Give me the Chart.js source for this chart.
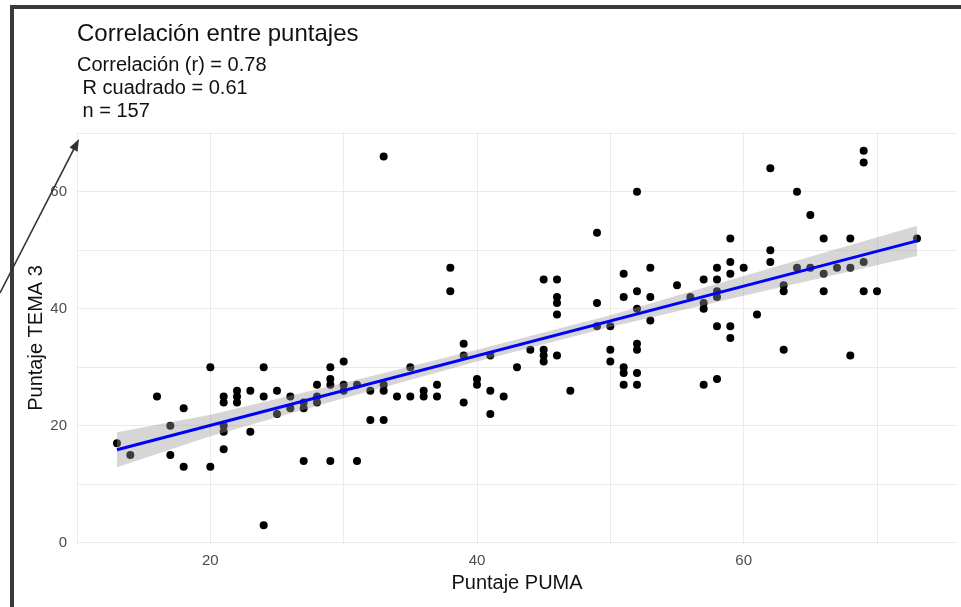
<!DOCTYPE html>
<html>
<head>
<meta charset="utf-8">
<script src="https://cdn.jsdelivr.net/npm/chart.js@4"></script>
<style>
html, body { margin: 0; padding: 0; background: #fff; }
#wrap { width: 961px; height: 607px; position: relative; }
</style>
</head>
<body>
<div id="wrap"><canvas id="corrChart"></canvas></div>
<script>
// Puntaje PUMA (x) y Puntaje TEMA 3 (y)
var pumaScores = [13, 14, 16, 17, 17, 18, 18, 20, 20,
    21, 21, 21, 21, 21, 22, 22, 22, 23, 23, 24, 24, 24, 25, 25, 26, 26,
    27, 27, 27, 28, 28, 28, 29, 29, 29, 29, 30, 30, 30, 31, 31, 32, 32,
    33, 33, 33, 33, 34, 35, 35, 36, 36, 37, 37, 38, 38, 39, 39, 39, 40, 40,
    41, 41, 41, 42, 43, 44, 45, 45, 45, 45, 46, 46, 46, 46, 46, 47,
    49, 49, 49, 50, 50, 50, 51, 51, 51, 51, 51, 52, 52, 52, 52, 52, 52, 52,
    53, 53, 53, 55, 56, 57, 57, 57, 57, 58, 58, 58, 58, 58, 58,
    59, 59, 59, 59, 59, 60, 61, 62, 62, 62, 63, 63, 63, 64, 64, 65, 65,
    66, 66, 66, 67, 68, 68, 68, 69, 69, 69, 69, 70, 73];
var temaScores = [17, 15, 25, 20, 15, 23, 13, 30, 13,
    25, 24, 20, 19, 16, 26, 25, 24, 26, 19, 30, 25, 3, 26, 22, 25, 23,
    24, 23, 14, 27, 25, 24, 30, 28, 27, 14, 31, 27, 26, 27, 14, 26, 21,
    66, 27, 26, 21, 25, 30, 25, 26, 25, 27, 25, 47, 43, 34, 32, 24, 28, 27,
    32, 26, 22, 25, 30, 33, 45, 33, 32, 31, 45, 42, 41, 39, 32, 26,
    53, 41, 37, 37, 33, 31, 46, 42, 30, 29, 27, 60, 43, 40, 34, 33, 29, 27,
    47, 42, 38, 44, 42, 45, 41, 40, 27, 47, 45, 43, 42, 37, 28,
    52, 48, 46, 37, 35, 47, 39, 64, 50, 48, 44, 43, 33, 60, 47, 56, 47,
    52, 46, 43, 47, 52, 47, 32, 67, 65, 48, 43, 43, 52];

// recta de regresion y banda de confianza
var fitX = [13, 73];
var fitY = [15.9, 51.6];
var bandX = [13, 20, 30, 40, 50, 60, 73];
var bandUpper = [18.9, 21.9, 27.3, 33.0, 38.9, 45.6, 54.2];
var bandLower = [12.9, 18.2, 24.7, 31.0, 36.9, 42.2, 49.0];

var xTicks = [10, 20, 30, 40, 50, 60, 70];
var xTickLabels = ['', '20', '', '40', '', '60', ''];
var yTicks = [0, 10, 20, 30, 40, 50, 60, 70];
var yTickLabels = ['0', '', '20', '', '40', '', '60', ''];

var titleText = 'Correlación entre puntajes';
var subtitleLines = ['Correlación (r) = 0.78', ' R cuadrado = 0.61', ' n = 157'];

var fontFamily = '"Liberation Sans", Arial, sans-serif';

function zip(xs, ys) {
    var out = [];
    xs.forEach((x, i) => out.push({ x: x, y: ys[i] }));
    return out;
}

var decor = {
    id: 'decor',
    afterDraw: function (chart) {
        var ctx = chart.ctx;
        ctx.save();
        ctx.fillStyle = '#111';
        ctx.textAlign = 'left';
        ctx.textBaseline = 'alphabetic';
        ctx.font = '24px ' + fontFamily;
        ctx.fillText(titleText, 77, 41);
        ctx.font = '20px ' + fontFamily;
        subtitleLines.forEach((s, i) => ctx.fillText(s, 77, 71 + i * 23));

        // marco
        ctx.strokeStyle = '#3a3a3a';
        ctx.lineWidth = 4;
        ctx.beginPath();
        ctx.moveTo(12, 607);
        ctx.lineTo(12, 7);
        ctx.lineTo(961, 7);
        ctx.stroke();

        // flecha
        var x0 = 0, y0 = 293, x1 = 79, y1 = 139;
        var ang = Math.atan2(y1 - y0, x1 - x0);
        ctx.strokeStyle = '#333';
        ctx.fillStyle = '#333';
        ctx.lineWidth = 1.6;
        ctx.beginPath();
        ctx.moveTo(x0, y0);
        ctx.lineTo(x1 - 6 * Math.cos(ang), y1 - 6 * Math.sin(ang));
        ctx.stroke();
        ctx.beginPath();
        ctx.moveTo(x1, y1);
        ctx.lineTo(x1 - 12 * Math.cos(ang) + 4.5 * Math.sin(ang), y1 - 12 * Math.sin(ang) - 4.5 * Math.cos(ang));
        ctx.lineTo(x1 - 12 * Math.cos(ang) - 4.5 * Math.sin(ang), y1 - 12 * Math.sin(ang) + 4.5 * Math.cos(ang));
        ctx.closePath();
        ctx.fill();
        ctx.restore();
    }
};

var ctx = document.getElementById('corrChart').getContext('2d');
var chart = new Chart(ctx, {
    type: 'scatter',
    data: {
        datasets: [
            {
                type: 'line',
                data: zip(fitX, fitY),
                borderColor: '#0000ff',
                borderWidth: 3,
                pointRadius: 0,
                fill: false
            },
            {
                type: 'line',
                data: zip(bandX, bandUpper),
                borderWidth: 0,
                borderColor: 'rgba(0,0,0,0)',
                pointRadius: 0,
                backgroundColor: 'rgba(153,153,153,0.4)',
                fill: '+1'
            },
            {
                type: 'line',
                data: zip(bandX, bandLower),
                borderWidth: 0,
                borderColor: 'rgba(0,0,0,0)',
                pointRadius: 0,
                fill: false
            },
            {
                data: zip(pumaScores, temaScores),
                backgroundColor: '#000',
                borderWidth: 0,
                pointRadius: 4
            }
        ]
    },
    options: {
        responsive: true,
        maintainAspectRatio: false,
        animation: false,
        events: [],
        layout: { padding: { top: 132, right: 4, bottom: 0, left: 0 } },
        plugins: {
            legend: { display: false },
            tooltip: { enabled: false }
        },
        scales: {
            x: {
                type: 'linear',
                min: 10,
                max: 76,
                afterBuildTicks: function (scale) {
                    scale.ticks = xTicks.map(v => ({ value: v }));
                },
                afterFit: function (scale) { scale.height = 63; },
                grid: { color: '#ebebeb', lineWidth: 1, drawTicks: false },
                border: { display: false },
                ticks: {
                    padding: 8,
                    color: '#4d4d4d',
                    font: { size: 15, family: fontFamily },
                    autoSkip: false,
                    maxRotation: 0,
                    callback: function (value) {
                        var i = xTicks.indexOf(value);
                        return i >= 0 ? xTickLabels[i] : '';
                    }
                },
                title: {
                    display: true,
                    text: 'Puntaje PUMA',
                    color: '#111',
                    font: { size: 20, family: fontFamily },
                    padding: { top: 0, bottom: 12 }
                }
            },
            y: {
                type: 'linear',
                min: -0.2,
                max: 70.2,
                afterBuildTicks: function (scale) {
                    scale.ticks = yTicks.map(v => ({ value: v }));
                },
                afterFit: function (scale) { scale.width = 77; },
                grid: { color: '#ebebeb', lineWidth: 1, drawTicks: false },
                border: { display: false },
                ticks: {
                    padding: 10,
                    color: '#4d4d4d',
                    font: { size: 15, family: fontFamily },
                    autoSkip: false,
                    callback: function (value) {
                        var i = yTicks.indexOf(value);
                        return i >= 0 ? yTickLabels[i] : '';
                    }
                },
                title: {
                    display: true,
                    text: 'Puntaje TEMA 3',
                    color: '#111',
                    font: { size: 20, family: fontFamily },
                    padding: { top: 24, bottom: 0 }
                }
            }
        }
    },
    plugins: [decor]
});
</script>
</body>
</html>
